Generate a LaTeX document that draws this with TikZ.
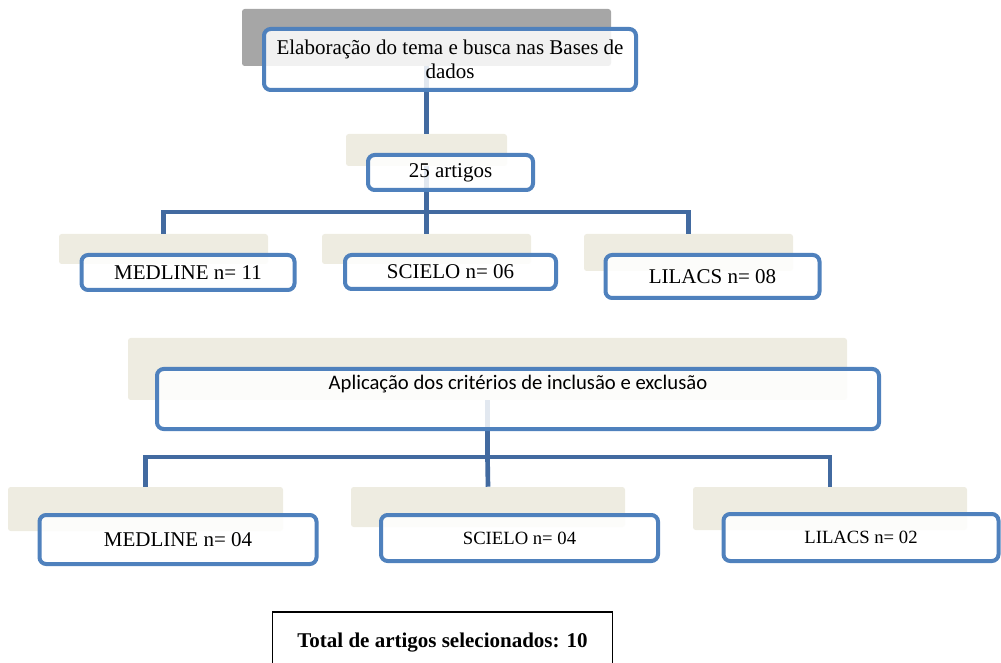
\documentclass[tikz,border=0pt]{standalone}
\usepackage{fontspec}
\setmainfont{Liberation Serif}
\newfontfamily\calib{Carlito}
\definecolor{bblue}{RGB}{79,129,189}
\definecolor{cblue}{RGB}{66,106,160}
\definecolor{beige}{RGB}{238,236,225}
\definecolor{ggray}{RGB}{166,166,166}
\begin{document}
\begin{tikzpicture}[x=0.75pt,y=-0.75pt,
  bg/.style={fill=beige, rounded corners=2pt, inner sep=0pt},
  box/.style={draw=bblue, line width=3pt, fill=white, fill opacity=0.85, text opacity=1,
    rounded corners=5pt, inner sep=0pt, align=center, font=\fontsize{15.75}{18}\selectfont},
  smalltxt/.style={font=\fontsize{14}{16}\selectfont},
  conn/.style={draw=cblue, line width=3.5pt},
]
\useasboundingbox (0,0) rectangle (1001,663);
\clip (0,0) rectangle (1001,663);

% background plates
\node[bg, fill=ggray, minimum width=276.75pt, minimum height=42.75pt] (topbg) at (426.5,37.5) {};
\node[bg, minimum width=120.75pt, minimum height=24pt] (artbg) at (426.5,150) {};
\node[bg, minimum width=156.75pt, minimum height=22.5pt] (ra1) at (163.5,249) {};
\node[bg, minimum width=156.75pt, minimum height=22.5pt] (ra2) at (426.5,249) {};
\node[bg, minimum width=156.75pt, minimum height=27.75pt] (ra3) at (688.5,252.5) {};
\node[bg, minimum width=539.25pt, minimum height=46.5pt] (bigbg) at (487.5,369) {};
\node[bg, minimum width=206.25pt, minimum height=33pt] (rb1) at (145.5,509) {};
\node[bg, minimum width=205.5pt, minimum height=30pt] (rb2) at (488,507) {};
\node[bg, minimum width=205.5pt, minimum height=32.25pt] (rb3) at (830,508.5) {};

% connectors
\coordinate (ja) at (426.5,212);
\coordinate (jb) at (487.5,457);
\draw[conn] (topbg.south) -- (artbg.north);
\draw[conn] (artbg.south) -- (ja);
\draw[conn] (ra1.north) |- (ja) -| (ra3.north);
\draw[conn] (ja) -- (ra2.north);
\draw[conn] (bigbg.south) -- (jb);
\draw[conn] (rb1.north) |- (jb) -| (rb3.north);
\draw[conn] (jb) -- (rb2.north);

% boxes
\node[box, minimum width=279pt, minimum height=45.75pt] (top) at (450,59.5)
  {Elaboração do tema e busca nas Bases de\\dados};
\node[box, minimum width=123.75pt, minimum height=26.25pt] (art) at (450.5,172.5) {25 artigos};
\node[box, minimum width=159.75pt, minimum height=26.25pt] (a1) at (188,272.5) {MEDLINE n= 11};
\node[box, minimum width=158.25pt, minimum height=25.5pt] (a2) at (450.5,272) {SCIELO n= 06};
\node[box, minimum width=160.5pt, minimum height=32.25pt] (a3) at (712.5,276.5) {LILACS n= 08};
\node[box, anchor=north, minimum width=541.5pt, minimum height=45pt,
  text height=11pt, text depth=26pt, inner ysep=4pt, font=\calib\fontsize{15.5}{18}\selectfont]
  (big) at (518,367) {Aplicação dos critérios de inclusão e exclusão};
\node[box, minimum width=207.75pt, minimum height=36.75pt] (b1) at (178,539.5) {MEDLINE n= 04};
\node[box, smalltxt, minimum width=207.75pt, minimum height=34.5pt] (b2) at (519.5,538) {SCIELO n= 04};
\node[box, smalltxt, minimum width=206.25pt, minimum height=35.25pt] (b3) at (861,537.5) {LILACS n= 02};

\node[draw=black, line width=1.2pt, anchor=north, minimum width=255pt, inner xsep=0pt, inner ysep=0pt,
  text height=27pt, text depth=40pt, font=\bfseries\fontsize{15.75}{18}\selectfont]
  (tot) at (442.5,611) {Total de artigos selecionados: 10};
\end{tikzpicture}
\end{document}
